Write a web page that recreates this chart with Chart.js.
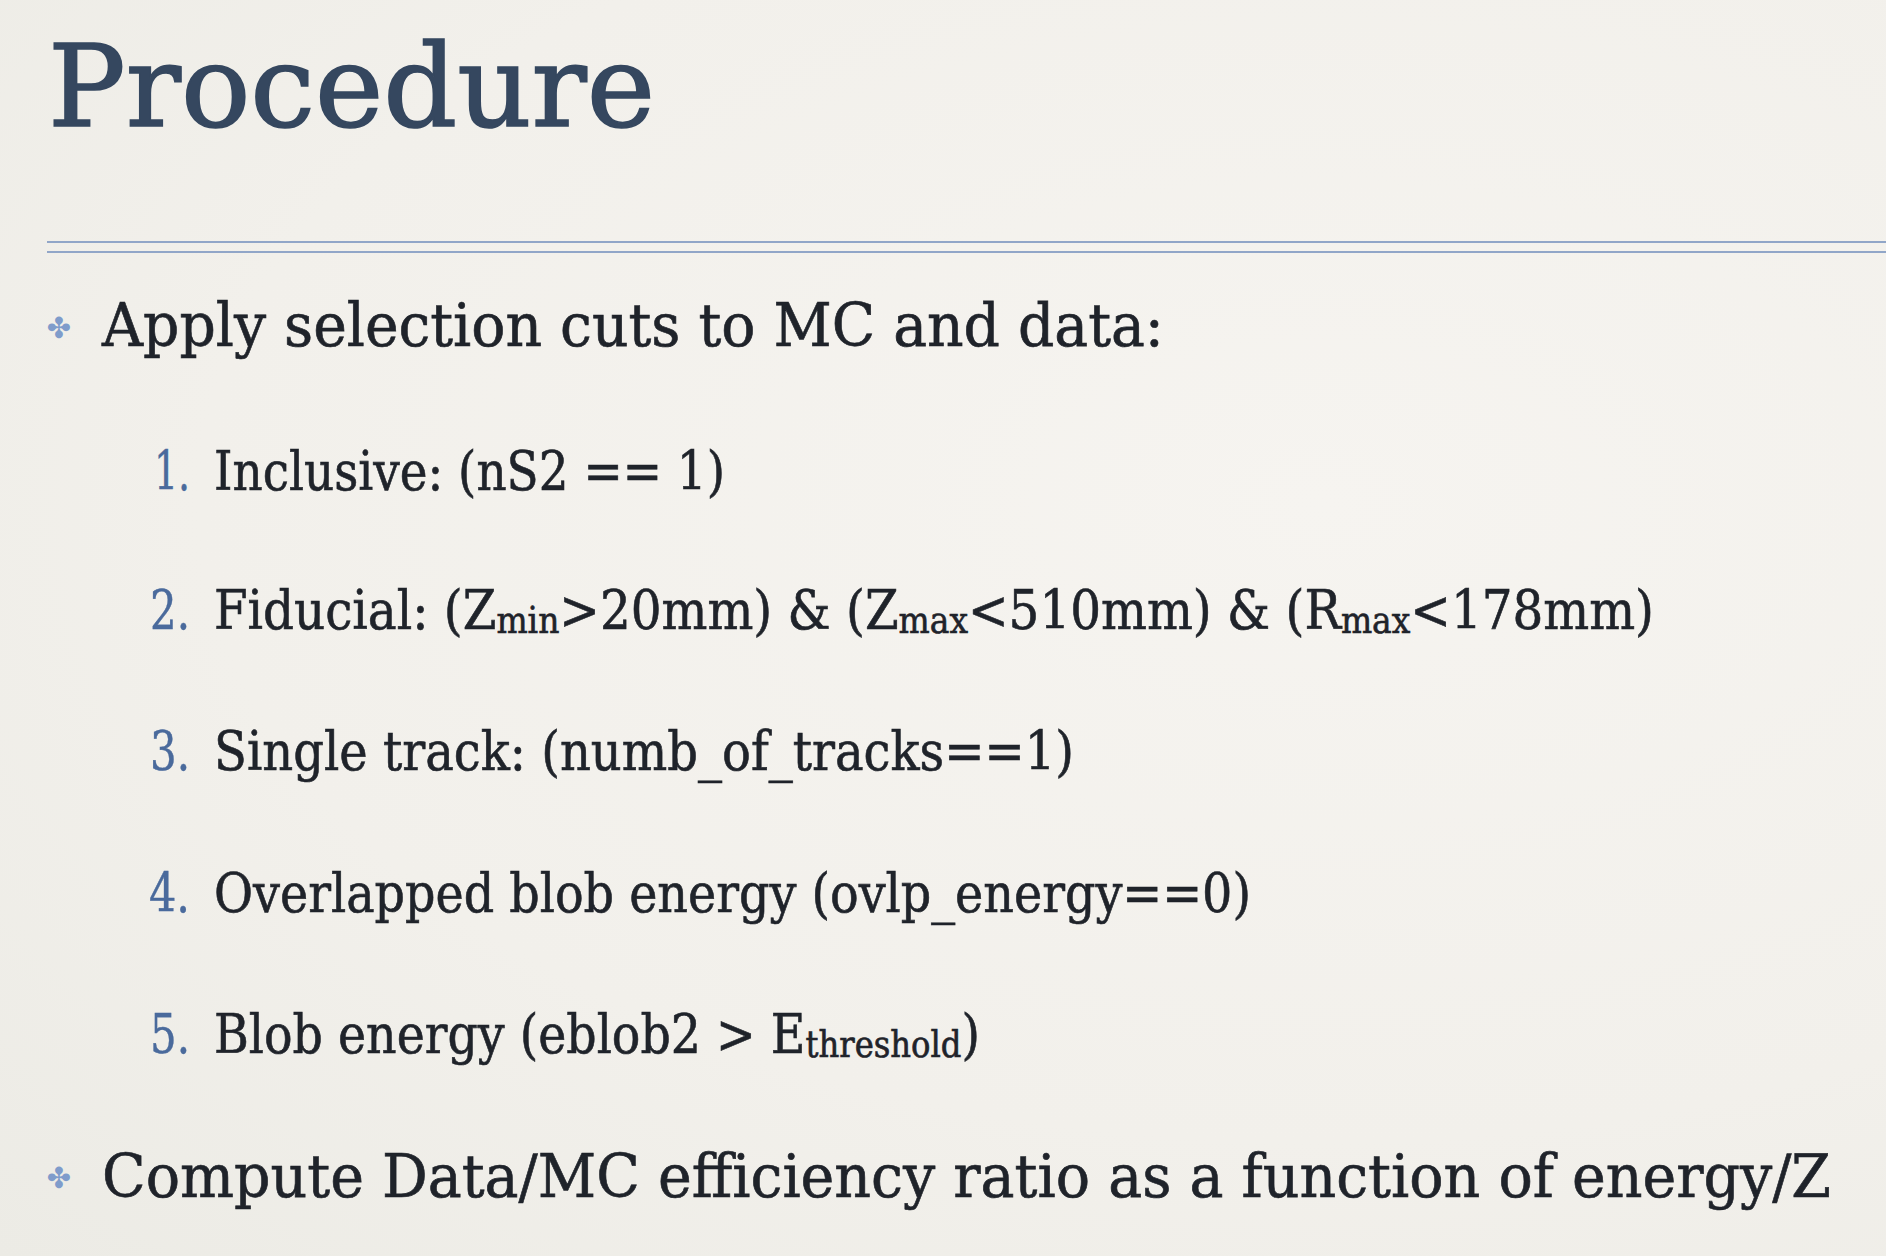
<!DOCTYPE html>
<html>
<head>
<meta charset="utf-8">
<script src="https://cdn.jsdelivr.net/npm/chart.js@4.4.1/dist/chart.umd.min.js"></script>
<style>
  html, body { margin: 0; padding: 0; }
  body {
    width: 1886px; height: 1256px; overflow: hidden; position: relative;
    background: radial-gradient(ellipse at 70% 40%, #f6f4f0 0%, #f2f0eb 60%, #ecebe5 100%);
    font-family: "DejaVu Serif Condensed", "DejaVu Serif", serif;
  }
  .line { position: absolute; white-space: nowrap; line-height: 1; transform-origin: 0 0; }
  .title { color: #35475f; font-size: 115px; -webkit-text-stroke: 1.6px #35475f; }
  .bullet-text { color: #1f232a; font-size: 59px; -webkit-text-stroke: 0.6px #1f232a; }
  .item-text { color: #1f232a; font-size: 54px; -webkit-text-stroke: 0.6px #1f232a; }
  .num { color: #4a6a9c; font-size: 54px; -webkit-text-stroke: 0.4px #4a6a9c; }
  .glyph { color: #7f9ccb; font-family: "DejaVu Sans", sans-serif; font-size: 29px; }
  sub { font-size: 0.68em; vertical-align: -0.12em; line-height: 0; }
  .rule { position: absolute; left: 47px; right: 0; height: 2px; background: #91a6c8; }
  .mk { display: inline-block; width: 0; height: 0; vertical-align: baseline; }
  #chartHolder { position: absolute; left: 0; top: 0; width: 1px; height: 1px; opacity: 0; }
</style>
</head>
<body>
<div class="rule" style="top:241px"></div>
<div class="rule" style="top:251px"></div>
<div id="chartHolder"><canvas id="c"></canvas></div>
<script>
// ---- content (text) ----
const TITLE = "Procedure";
const BULLETS = [
  "Apply selection cuts to MC and data:",
  "Compute Data/MC efficiency ratio as a function of energy/Z"
];
const ITEM_NUMBERS = ["1.", "2.", "3.", "4.", "5."];
const ITEM_TEXTS = [
  "Inclusive: (nS2 == 1)",
  "Fiducial: (Z<sub>min</sub>&gt;20mm) &amp; (Z<sub>max</sub>&lt;510mm) &amp; (R<sub>max</sub>&lt;178mm)",
  "Single track: (numb_of_tracks==1)",
  "Overlapped blob energy (ovlp_energy==0)",
  "Blob energy (eblob2 &gt; E<sub>threshold</sub>)"
];

// ---- layout ----
const TITLE_BOX = { x: 48, base: 126, w: 607 };
const BULLET_BOX = [ { x: 102, base: 346, w: 1062, gy: 328 }, { x: 102, base: 1197, w: 1729, gy: 1178 } ];
const ITEM_BOX = [
  { base: 490, w: 511 },
  { base: 629, w: 1440 },
  { base: 770, w: 860 },
  { base: 912, w: 1037 },
  { base: 1053, w: 766 }
];
const NUM_W = [36, 40, 40, 41, 40];
const ITEM_X = 214, NUM_RIGHT = 190, GLYPH_CX = 59;

function place(html, cls, x, base, w, align) {
  const d = document.createElement('div');
  d.className = 'line ' + cls;
  d.innerHTML = '<span class="t">' + html + '</span><span class="mk"></span>';
  d.style.left = '0px'; d.style.top = '0px';
  document.body.appendChild(d);
  const mk = d.querySelector('.mk').getBoundingClientRect();
  const t = d.querySelector('.t').getBoundingClientRect();
  d.style.top = (base - mk.bottom) + 'px';
  let sx = 1;
  if (w) sx = w / t.width;
  if (align === 'right') d.style.left = (x - t.width * sx) + 'px';
  else if (align === 'center') d.style.left = (x - t.width / 2) + 'px';
  else d.style.left = x + 'px';
  if (sx !== 1) d.style.transform = 'scaleX(' + sx + ')';
  return d;
}

place(TITLE, 'title', TITLE_BOX.x, TITLE_BOX.base, TITLE_BOX.w);
BULLETS.forEach((b, i) => {
  const B = BULLET_BOX[i];
  place(b, 'bullet-text', B.x, B.base, B.w);
  place('\u2724', 'glyph', GLYPH_CX, B.gy + 10, null, 'center');
});
ITEM_TEXTS.forEach((t, i) => {
  const B = ITEM_BOX[i];
  place(ITEM_NUMBERS[i], 'num', NUM_RIGHT, B.base, NUM_W[i], 'right');
  place(t, 'item-text', ITEM_X, B.base, B.w);
});

// Chart.js instance (empty, no plot content on this slide)
new Chart(document.getElementById('c'), {
  type: 'line',
  data: { labels: [], datasets: [] },
  options: { responsive: false, animation: false, plugins: { legend: { display: false } },
             scales: { x: { display: false }, y: { display: false } } }
});
</script>
</body>
</html>
